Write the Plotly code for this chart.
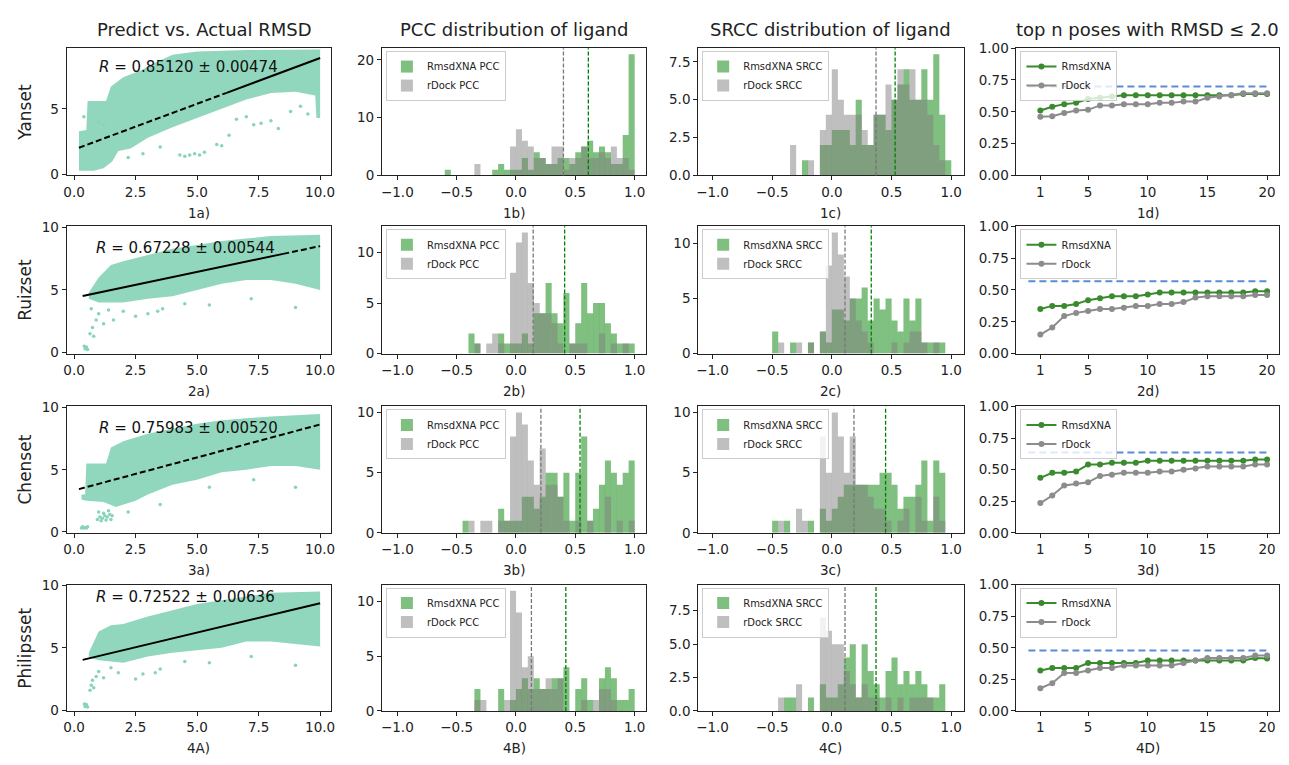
import plotly.graph_objects as go

W, H = 1289, 765
FONT = "DejaVu Sans"

# ---------------- data ----------------
ROW_NAMES = ["Yanset", "Ruizset", "Chenset", "Philipsset"]
COL_TITLES = ["Predict vs. Actual RMSD", "PCC distribution of ligand",
              "SRCC distribution of ligand", "top n poses with RMSD \u2264 2.0"]
PANEL_LABELS = [["1a)", "1b)", "1c)", "1d)"], ["2a)", "2b)", "2c)", "2d)"],
                ["3a)", "3b)", "3c)", "3d)"], ["4A)", "4B)", "4C)", "4D)"]]

# Scatter clouds (predicted vs actual RMSD): envelope of dense region + sparse points
R_VALUES = ["0.85120 \u00b1 0.00474", "0.67228 \u00b1 0.00544",
            "0.75983 \u00b1 0.00520", "0.72522 \u00b1 0.00636"]
R_TEXT_X = [0.95, 0.8, 0.95, 0.8]
R_TEXT_Y = [8.2, 8.35, 8.36, 9.05]

YAN_UP_X = [0.2, 0.5, 0.55, 1.3, 1.5, 2.0, 2.7, 3.3, 4.0, 5.0, 7.0, 10.0]
YAN_UP_Y = [3.3, 3.4, 5.6, 5.6, 6.7, 7.4, 7.9, 8.5, 9.1, 9.35, 9.45, 9.5]
YAN_LO_X = [10.0, 9.85, 9.8, 9.0, 8.0, 7.0, 6.0, 5.0, 4.0, 3.0, 2.3, 1.8, 1.55, 1.2, 0.8, 0.2]
YAN_LO_Y = [4.3, 4.3, 6.0, 6.3, 6.2, 5.7, 5.0, 4.3, 3.6, 2.8, 2.0, 1.8, 1.0, 0.5, 0.3, 0.3]
YAN_PTS_X = [2.2, 2.8, 3.5, 4.3, 4.5, 4.7, 4.9, 5.1, 5.3, 5.8, 6.0, 6.3, 6.6, 7.0, 7.3, 7.6, 8.0, 8.3, 8.8, 9.2, 9.5, 1.0, 1.2, 0.4]
YAN_PTS_Y = [1.3, 1.6, 2.1, 1.5, 1.4, 1.5, 1.6, 1.5, 1.7, 2.3, 2.2, 3.0, 4.2, 4.4, 3.8, 3.9, 4.1, 3.5, 4.8, 5.2, 4.6, 4.0, 3.8, 4.4]

RUI_UP_X = [0.6, 1.0, 1.5, 2.0, 3.0, 4.0, 5.0, 6.0, 7.0, 8.0, 10.0]
RUI_UP_Y = [4.8, 6.0, 7.0, 7.3, 7.8, 8.3, 8.6, 8.9, 9.1, 9.3, 9.4]
RUI_LO_X = [10.0, 9.0, 8.0, 7.0, 6.0, 5.0, 4.0, 3.0, 2.0, 1.0, 0.6]
RUI_LO_Y = [5.0, 5.5, 5.8, 5.8, 5.5, 5.0, 4.5, 4.3, 4.0, 4.0, 4.3]
RUI_PTS_X = [0.45, 0.5, 0.55, 0.42, 0.65, 0.75, 0.8, 0.9, 1.0, 1.2, 0.7, 1.4, 1.6, 2.5, 3.0, 3.4, 3.6, 5.5, 9.0, 7.2, 4.5, 2.0]
RUI_PTS_Y = [0.3, 0.45, 0.25, 0.5, 1.5, 2.0, 1.3, 2.6, 3.1, 2.3, 3.5, 3.4, 2.6, 2.9, 3.1, 3.3, 3.5, 3.8, 3.6, 4.3, 3.9, 3.3]

CHE_UP_X = [0.3, 0.45, 0.5, 1.3, 1.5, 2.0, 3.0, 4.0, 5.0, 6.0, 8.0, 10.0]
CHE_UP_Y = [3.0, 3.0, 5.5, 5.5, 6.8, 7.3, 7.9, 8.3, 8.7, 9.0, 9.3, 9.5]
CHE_LO_X = [10.0, 9.0, 8.0, 7.0, 6.0, 5.0, 4.0, 3.0, 2.5, 1.7, 1.2, 0.5, 0.3]
CHE_LO_Y = [5.0, 5.3, 5.3, 5.0, 4.8, 4.2, 3.8, 3.0, 2.5, 2.0, 2.4, 2.5, 2.6]
CHE_PTS_X = [0.3, 0.35, 0.4, 0.45, 0.5, 0.55, 0.95, 1.05, 1.15, 1.25, 1.35, 1.45, 1.55, 1.0, 1.2, 1.4, 1.1, 1.3, 1.5, 2.2, 3.5, 5.5, 9.0, 7.3]
CHE_PTS_Y = [0.3, 0.4, 0.3, 0.35, 0.3, 0.4, 1.0, 1.2, 1.1, 1.3, 1.2, 1.4, 1.3, 1.6, 1.5, 1.7, 0.9, 0.95, 1.0, 1.6, 2.2, 3.6, 3.6, 4.2]

PHI_UP_X = [0.6, 1.0, 1.5, 2.0, 3.0, 4.0, 5.0, 6.0, 7.0, 8.0, 10.0]
PHI_UP_Y = [4.6, 6.3, 6.8, 6.9, 7.5, 8.0, 8.5, 8.8, 9.1, 9.4, 9.5]
PHI_LO_X = [10.0, 9.0, 8.0, 7.0, 6.0, 5.0, 4.0, 3.0, 2.0, 1.0, 0.6]
PHI_LO_Y = [5.1, 5.3, 5.5, 5.5, 5.0, 4.8, 4.6, 4.3, 3.8, 4.0, 4.2]
PHI_PTS_X = [0.45, 0.5, 0.55, 0.42, 0.65, 0.7, 0.75, 0.8, 0.9, 1.0, 1.2, 1.5, 1.8, 2.5, 2.8, 3.3, 3.5, 5.5, 9.0, 7.2, 4.5]
PHI_PTS_Y = [0.3, 0.45, 0.25, 0.5, 1.6, 2.0, 2.4, 1.8, 2.7, 3.1, 2.6, 3.4, 3.0, 2.5, 2.9, 3.0, 3.3, 3.8, 3.6, 4.3, 3.9]

# regression lines: start/end and where the line style switches
REG_X0 = [0.2, 0.35, 0.2, 0.35]
REG_Y0 = [2.05, 4.52, 3.44, 4.03]
REG_X1 = [10.0, 10.0, 10.0, 10.0]
REG_Y1 = [8.85, 8.5, 8.65, 8.57]
REG_SPLIT_X = [6.2, 8.5, 10.0, 10.0]
REG_FIRST_DASHED = [True, False, True, False]

# Histograms (bin width 0.05)
BIN_CENTERS = [-0.575, -0.525, -0.475, -0.425, -0.375, -0.325, -0.275, -0.225,
               -0.175, -0.125, -0.075, -0.025, 0.025, 0.075, 0.125, 0.175,
               0.225, 0.275, 0.325, 0.375, 0.425, 0.475, 0.525, 0.575,
               0.625, 0.675, 0.725, 0.775, 0.825, 0.875, 0.925, 0.975]
PCC_XNA_1 = [1,0,0,0,0,0,0,0, 1,2,1,1,1,3,1,4, 3,2,2,3,3,2,4,5, 6,4,5,4,2,2,7,21]
PCC_RD_1 = [0,0,0,0,0,2,0,0, 0,0,0,5,8,6,5,3, 3,2,5,5,1,3,3,5, 3,3,4,3,5,3,3,1]
SRCC_XNA_1 = [0,0,0,0,0,0,0,1, 0,0,2,2,3,3,3,2, 5,2,2,4,4,3,5,6, 7,5,5,7,5,8,4,1]
SRCC_RD_1 = [0,0,0,0,0,2,0,0, 1,0,3,4,7,5,4,4, 4,3,2,4,4,6,5,7, 6,7,5,5,4,2,1,0]
PCC_XNA_2 = [0,0,0,0,2,1,0,0, 0,2,1,1,1,2,1,4, 4,7,4,3,6,1,3,7, 4,5,5,3,2,1,1,1]
PCC_RD_2 = [0,0,0,0,0,1,0,1, 2,1,0,8,11,12,7,5, 4,4,3,1,0,1,1,1, 0,0,2,0,1,0,1,0]
SRCC_XNA_2 = [0,0,2,0,0,1,0,0, 1,0,2,1,4,4,3,5, 5,6,3,5,4,5,3,2, 5,3,5,1,1,1,1,0]
SRCC_RD_2 = [0,0,0,1,0,0,1,0, 1,0,2,8,11,9,7,5, 3,2,1,0,0,0,1,0, 1,2,2,1,0,1,0,0]
PCC_XNA_3 = [0,0,0,1,0,0,0,0, 0,2,1,1,1,3,3,2, 3,5,5,3,5,1,5,8, 1,2,4,6,5,4,5,6]
PCC_RD_3 = [0,0,0,0,1,0,1,1, 0,1,1,8,10,9,6,4, 7,4,4,3,1,0,1,0, 1,0,0,3,0,1,0,1]
SRCC_XNA_3 = [0,0,1,0,1,0,0,0, 1,0,2,1,2,3,4,4, 4,4,4,4,5,5,4,2, 3,3,4,6,1,6,5,0]
SRCC_RD_3 = [0,0,0,1,0,0,2,1, 0,0,8,5,10,8,5,8, 4,4,3,2,2,1,0,1, 2,0,3,1,0,3,1,0]
PCC_XNA_4 = [0,0,0,0,0,2,0,0, 0,2,0,1,2,3,2,3, 2,2,3,3,4,0,2,3, 1,0,3,4,3,1,1,2]
PCC_RD_4 = [0,0,0,0,0,1,1,0, 0,0,1,11,9,4,5,2, 2,3,2,3,0,0,0,1, 0,1,2,2,1,0,0,0]
SRCC_XNA_4 = [0,0,0,0,1,1,0,0, 1,0,2,1,1,2,4,5, 1,5,3,2,1,3,4,2, 3,2,3,2,1,1,2,0]
SRCC_RD_4 = [0,0,0,1,0,0,2,0, 0,0,7,6,5,5,3,2, 1,2,1,1,0,1,0,1, 0,1,1,1,1,0,0,0]

PCC_MEAN_XNA = [0.61, 0.41, 0.54, 0.42]
PCC_MEAN_RD = [0.40, 0.145, 0.21, 0.13]
SRCC_MEAN_XNA = [0.53, 0.33, 0.45, 0.37]
SRCC_MEAN_RD = [0.37, 0.11, 0.185, 0.11]
PCC_YMAX = [22.05, 12.6, 10.5, 11.55]
SRCC_YMAX = [8.4, 11.55, 10.5, 9.45]
PCC_TICKS = [[0, 10, 20], [0, 5, 10], [0, 5, 10], [0, 5, 10]]
SRCC_TICKS = [[0, 2.5, 5, 7.5], [0, 5, 10], [0, 5, 10], [0, 2.5, 5, 7.5]]

# Top-n success rate
TOPN_X = [1, 2, 3, 4, 5, 6, 7, 8, 9, 10, 11, 12, 13, 14, 15, 16, 17, 18, 19, 20]
TOPN_XNA_1 = [0.51,0.54,0.56,0.57,0.60,0.61,0.62,0.63,0.63,0.63,0.63,0.63,0.63,0.63,0.63,0.63,0.63,0.64,0.64,0.64]
TOPN_RD_1 = [0.46,0.465,0.49,0.51,0.515,0.55,0.55,0.56,0.56,0.56,0.57,0.57,0.58,0.58,0.61,0.62,0.63,0.645,0.645,0.645]
TOPN_XNA_2 = [0.35,0.375,0.375,0.39,0.42,0.435,0.45,0.45,0.45,0.465,0.48,0.48,0.48,0.48,0.48,0.48,0.48,0.48,0.49,0.49]
TOPN_RD_2 = [0.15,0.205,0.295,0.32,0.335,0.35,0.35,0.36,0.375,0.375,0.39,0.39,0.405,0.44,0.45,0.45,0.45,0.45,0.46,0.46]
TOPN_XNA_3 = [0.435,0.475,0.475,0.485,0.54,0.54,0.555,0.555,0.555,0.57,0.57,0.57,0.57,0.57,0.57,0.57,0.57,0.57,0.58,0.58]
TOPN_RD_3 = [0.235,0.295,0.375,0.39,0.40,0.45,0.46,0.475,0.475,0.475,0.485,0.485,0.50,0.51,0.525,0.525,0.525,0.525,0.54,0.54]
TOPN_XNA_4 = [0.32,0.34,0.34,0.34,0.38,0.38,0.38,0.38,0.38,0.40,0.40,0.40,0.40,0.40,0.40,0.40,0.40,0.40,0.42,0.415]
TOPN_RD_4 = [0.18,0.22,0.30,0.30,0.32,0.34,0.34,0.36,0.36,0.36,0.36,0.36,0.38,0.40,0.42,0.42,0.42,0.42,0.44,0.44]
TOPN_BOUND = [0.698, 0.569, 0.636, 0.478]

CLOUDS = [
    (YAN_UP_X, YAN_UP_Y, YAN_LO_X, YAN_LO_Y, YAN_PTS_X, YAN_PTS_Y),
    (RUI_UP_X, RUI_UP_Y, RUI_LO_X, RUI_LO_Y, RUI_PTS_X, RUI_PTS_Y),
    (CHE_UP_X, CHE_UP_Y, CHE_LO_X, CHE_LO_Y, CHE_PTS_X, CHE_PTS_Y),
    (PHI_UP_X, PHI_UP_Y, PHI_LO_X, PHI_LO_Y, PHI_PTS_X, PHI_PTS_Y),
]
PCC = [(PCC_XNA_1, PCC_RD_1), (PCC_XNA_2, PCC_RD_2), (PCC_XNA_3, PCC_RD_3), (PCC_XNA_4, PCC_RD_4)]
SRCC = [(SRCC_XNA_1, SRCC_RD_1), (SRCC_XNA_2, SRCC_RD_2), (SRCC_XNA_3, SRCC_RD_3), (SRCC_XNA_4, SRCC_RD_4)]
TOPN = [(TOPN_XNA_1, TOPN_RD_1), (TOPN_XNA_2, TOPN_RD_2), (TOPN_XNA_3, TOPN_RD_3), (TOPN_XNA_4, TOPN_RD_4)]

# ---------------- layout geometry (pixels) ----------------
COLS = [(64, 330), (381, 647), (699, 966), (1019, 1283)]
ROWS = [(41, 171), (223, 353), (407, 536), (589, 718)]
SCAT_YR = [[-0.05, 9.6], [-0.08, 10.08], [-0.08, 10.1], [-0.06, 10.05]]

CLOUD_COL = "rgba(136,212,184,0.92)"
DOT_COL = "rgb(136,212,184)"
XNA_FILL = "rgba(0,128,0,0.5)"
RD_FILL = "rgba(128,128,128,0.5)"
LINE_GREEN = "#3a8a2e"
LINE_GREY = "#8c8c8c"
BLUE = "#5b8bd6"
TICK_SIZE = 13.5

fig = go.Figure()
layout = dict(width=W, height=H, margin=dict(l=0, r=0, t=0, b=0, pad=0),
              paper_bgcolor="white", plot_bgcolor="white", barmode="overlay",
              font=dict(family=FONT, size=13, color="#222"), showlegend=True)
annotations = []
shapes = []


def pxx(p):
    return p / W


def pxy(p):
    return 1 - p / H


def axname(k, kind):
    return kind if k == 1 else f"{kind}{k}"


def base_axis(dom):
    return dict(domain=dom, showline=True, mirror=True, linecolor="#222", linewidth=1,
                ticks="outside", ticklen=4, tickwidth=1, tickcolor="#222",
                showgrid=False, zeroline=False,
                tickfont=dict(family=FONT, size=TICK_SIZE, color="#222"))


def legend_box(c, top):
    return dict(x=pxx(COLS[c][0] + 4), y=pxy(top + 3), xanchor="left", yanchor="top",
                bgcolor="rgba(255,255,255,0.8)", bordercolor="#cccccc", borderwidth=1,
                font=dict(family=FONT, size=10, color="#222"), tracegroupgap=0,
                itemwidth=30)


legend_idx = 0
for r in range(4):
    top, bot = ROWS[r]
    ydom = [pxy(bot), pxy(top)]
    for c in range(4):
        k = r * 4 + c + 1
        xdom = [pxx(COLS[c][0]), pxx(COLS[c][1])]
        xa = base_axis(xdom)
        ya = base_axis(ydom)
        xa["anchor"] = axname(k, "y")
        ya["anchor"] = axname(k, "x")
        xr, yr = axname(k, "x"), axname(k, "y")

        if c == 0:
            upx, upy, lox, loy, ptx, pty = CLOUDS[r]
            fig.add_trace(go.Scatter(x=upx + lox, y=upy + loy, fill="toself", mode="none",
                                     fillcolor=CLOUD_COL, showlegend=False, xaxis=xr, yaxis=yr))
            fig.add_trace(go.Scatter(x=ptx, y=pty, mode="markers",
                                     marker=dict(size=3.5, color=DOT_COL), showlegend=False,
                                     xaxis=xr, yaxis=yr))
            x0, y0, x1, y1, xs = REG_X0[r], REG_Y0[r], REG_X1[r], REG_Y1[r], REG_SPLIT_X[r]
            ys = y0 + (y1 - y0) * (xs - x0) / (x1 - x0)
            first = "6px,3px" if REG_FIRST_DASHED[r] else "solid"
            second = "solid" if REG_FIRST_DASHED[r] else "6px,3px"
            fig.add_trace(go.Scatter(x=[x0, xs], y=[y0, ys], mode="lines",
                                     line=dict(color="black", width=2, dash=first),
                                     showlegend=False, xaxis=xr, yaxis=yr))
            if xs < x1:
                fig.add_trace(go.Scatter(x=[xs, x1], y=[ys, y1], mode="lines",
                                         line=dict(color="black", width=2, dash=second),
                                         showlegend=False, xaxis=xr, yaxis=yr))
            annotations.append(dict(x=R_TEXT_X[r], y=R_TEXT_Y[r], xref=xr, yref=yr,
                                    text="<i>R</i> = " + R_VALUES[r], showarrow=False,
                                    xanchor="left", yanchor="middle",
                                    font=dict(family=FONT, size=15, color="#111")))
            xa.update(range=[-0.3, 10.45], tickvals=[0, 2.5, 5, 7.5, 10], tickformat=".1f")
            ya.update(range=SCAT_YR[r], tickvals=[0, 5, 10])
        elif c in (1, 2):
            legend_idx += 1
            lg = "legend" if legend_idx == 1 else f"legend{legend_idx}"
            xna, rd = (PCC if c == 1 else SRCC)[r]
            tag = "PCC" if c == 1 else "SRCC"
            fig.add_trace(go.Bar(x=BIN_CENTERS, y=xna, width=0.051,
                                 marker=dict(color=XNA_FILL, line=dict(width=0)),
                                 name="RmsdXNA " + tag, legend=lg, xaxis=xr, yaxis=yr))
            fig.add_trace(go.Bar(x=BIN_CENTERS, y=rd, width=0.051,
                                 marker=dict(color=RD_FILL, line=dict(width=0)),
                                 name="rDock " + tag, legend=lg, xaxis=xr, yaxis=yr))
            m_rd = (PCC_MEAN_RD if c == 1 else SRCC_MEAN_RD)[r]
            m_x = (PCC_MEAN_XNA if c == 1 else SRCC_MEAN_XNA)[r]
            shapes.append(dict(type="line", xref=xr, yref=yr + " domain", x0=m_rd, x1=m_rd,
                               y0=0, y1=1, line=dict(color="#777", width=1.3, dash="4px,2px")))
            shapes.append(dict(type="line", xref=xr, yref=yr + " domain", x0=m_x, x1=m_x,
                               y0=0, y1=1, line=dict(color="green", width=1.3, dash="4px,2px")))
            ymax = (PCC_YMAX if c == 1 else SRCC_YMAX)[r]
            tv = (PCC_TICKS if c == 1 else SRCC_TICKS)[r]
            xa.update(range=[-1.13, 1.1] if c == 1 else [-1.12, 1.105],
                      tickvals=[-1, -0.5, 0, 0.5, 1], tickformat=".1f")
            ya.update(range=[0, ymax], tickvals=tv,
                      tickformat=".1f" if 2.5 in tv else "d")
            layout[lg] = legend_box(c, top)
        else:
            legend_idx += 1
            lg = "legend" if legend_idx == 1 else f"legend{legend_idx}"
            xna, rd = TOPN[r]
            fig.add_trace(go.Scatter(x=[0, TOPN_X[-1]], y=[TOPN_BOUND[r], TOPN_BOUND[r]], mode="lines",
                                     line=dict(color=BLUE, width=2, dash="7px,4px"),
                                     showlegend=False, xaxis=xr, yaxis=yr))
            fig.add_trace(go.Scatter(x=TOPN_X, y=xna, mode="lines+markers", name="RmsdXNA",
                                     line=dict(color=LINE_GREEN, width=2),
                                     marker=dict(size=6, color=LINE_GREEN), legend=lg,
                                     xaxis=xr, yaxis=yr))
            fig.add_trace(go.Scatter(x=TOPN_X, y=rd, mode="lines+markers", name="rDock",
                                     line=dict(color=LINE_GREY, width=2),
                                     marker=dict(size=6, color=LINE_GREY), legend=lg,
                                     xaxis=xr, yaxis=yr))
            xa.update(range=[-1, 21], tickvals=[1, 5, 10, 15, 20])
            ya.update(range=[0, 1], tickvals=[0, 0.25, 0.5, 0.75, 1.0], tickformat=".2f")
            layout[lg] = legend_box(c, top)

        layout["xaxis" if k == 1 else f"xaxis{k}"] = xa
        layout["yaxis" if k == 1 else f"yaxis{k}"] = ya

        annotations.append(dict(x=pxx((COLS[c][0] + COLS[c][1]) / 2), y=pxy(bot + 38),
                                xref="paper", yref="paper", text=PANEL_LABELS[r][c],
                                showarrow=False, xanchor="center", yanchor="middle",
                                font=dict(family=FONT, size=13.5, color="#222")))
    annotations.append(dict(x=pxx(22), y=pxy((top + bot) / 2), xref="paper", yref="paper",
                            text=ROW_NAMES[r], textangle=-90, showarrow=False,
                            xanchor="center", yanchor="middle",
                            font=dict(family=FONT, size=17, color="#222")))

for c in range(4):
    annotations.append(dict(x=pxx((COLS[c][0] + COLS[c][1]) / 2 + (6 if c == 0 else 0)), y=pxy(22),
                            xref="paper", yref="paper", text=COL_TITLES[c], showarrow=False,
                            xanchor="center", yanchor="middle",
                            font=dict(family=FONT, size=18, color="#222")))

layout["annotations"] = annotations
layout["shapes"] = shapes
fig.update_layout(**layout)
fig.write_html("out.html", config={"displayModeBar": False},
               post_script="document.body.style.margin='0';document.body.style.overflow='hidden';")
